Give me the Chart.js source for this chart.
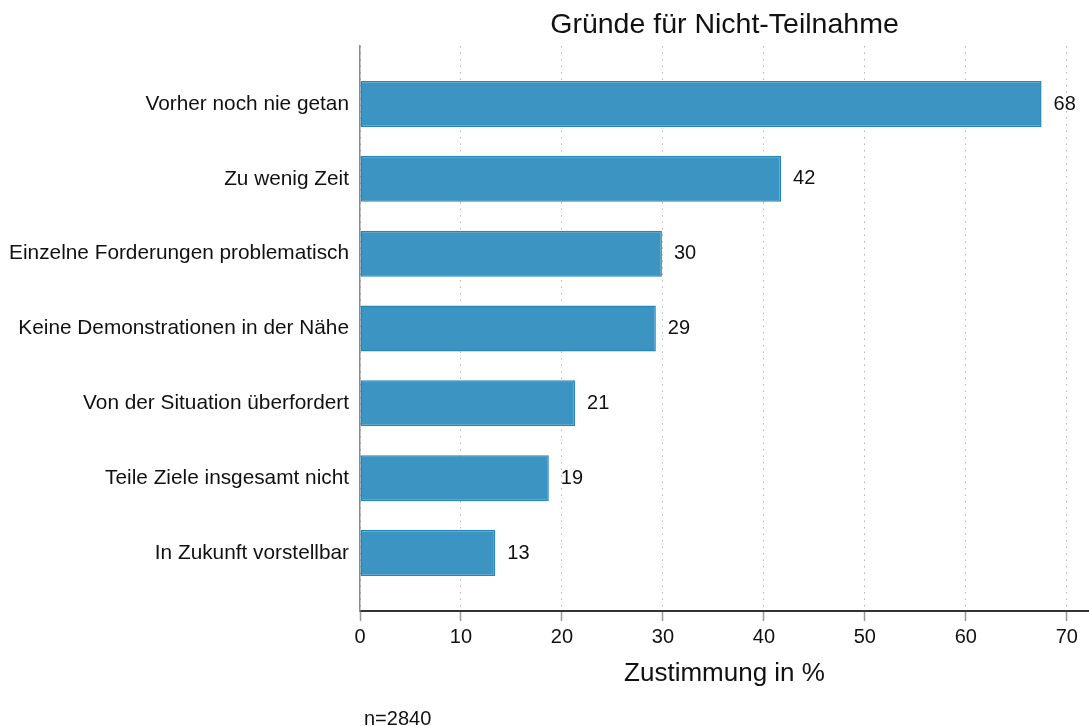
<!DOCTYPE html>
<html>
<head>
<meta charset="utf-8">
<script src="https://cdn.jsdelivr.net/npm/chart.js@4"></script>
<style>
  html, body { margin: 0; padding: 0; background: #fff; }
  #wrap { width: 1089px; height: 726px; position: relative; }
</style>
</head>
<body>
<div id="wrap"><canvas id="chart" width="1089" height="726"></canvas></div>
<script>
const categories = [
    'Vorher noch nie getan',
    'Zu wenig Zeit',
    'Einzelne Forderungen problematisch',
    'Keine Demonstrationen in der Nähe',
    'Von der Situation überfordert',
    'Teile Ziele insgesamt nicht',
    'In Zukunft vorstellbar'
];
const values = [67.5, 41.7, 29.9, 29.3, 21.3, 18.7, 13.4];
const xTicks = [0, 10, 20, 30, 40, 50, 60, 70];
const chartTitle = 'Gründe für Nicht-Teilnahme';
const axisTitle = 'Zustimmung in %';
const note = 'n=2840';

const FONT = '"Liberation Sans", Arial, Helvetica, sans-serif';

// Title, value labels and the n note
const textPlugin = {
    id: 'texts',
    afterDatasetsDraw(chart) {
        const ctx = chart.ctx;
        const meta = chart.getDatasetMeta(0);
        ctx.save();
        ctx.fillStyle = '#111';
        ctx.font = `20px ${FONT}`;
        ctx.textAlign = 'left';
        ctx.textBaseline = 'middle';
        meta.data.forEach((bar, i) => {
            ctx.fillText(String(Math.round(values[i])), bar.x + 12, bar.y);
        });
        ctx.restore();
    },
    afterDraw(chart) {
        const ctx = chart.ctx;
        const area = chart.chartArea;
        ctx.save();
        ctx.fillStyle = '#111';
        ctx.textBaseline = 'alphabetic';
        ctx.font = `28.5px ${FONT}`;
        ctx.textAlign = 'center';
        ctx.fillText(chartTitle, (area.left + area.right) / 2, 33);
        ctx.font = `20px ${FONT}`;
        ctx.textAlign = 'left';
        ctx.fillText(note, 364, 725);
        ctx.restore();
    }
};

new Chart(document.getElementById('chart').getContext('2d'), {
    type: 'bar',
    data: {
        datasets: [{
            data: values.map((v, i) => ({x: v, y: i})),
            backgroundColor: '#3b94c1',
            borderColor: '#2686b9',
            borderWidth: 1.5,
            borderSkipped: false,
            barPercentage: 0.615,
            categoryPercentage: 1
        }]
    },
    options: {
        indexAxis: 'y',
        responsive: false,
        animation: false,
        layout: {padding: {top: 46, right: 0, bottom: 35, left: 0}},
        plugins: {
            legend: {display: false},
            tooltip: {enabled: false}
        },
        scales: {
            x: {
                type: 'linear',
                min: 0,
                max: 72.2,
                afterBuildTicks: (scale) => { scale.ticks = xTicks.map(v => ({value: v})); },
                afterFit: (scale) => { scale.height = 80; },
                grid: {
                    color: '#b5b5b5',
                    lineWidth: 1,
                    drawTicks: true,
                    tickLength: 10,
                    tickColor: '#999',
                    tickWidth: 1.5,
                    tickBorderDash: []
                },
                border: {display: true, color: '#333', width: 2, dash: [1.5, 5]},
                ticks: {
                    color: '#111',
                    padding: 4,
                    font: {family: FONT, size: 20}
                },
                title: {
                    display: true,
                    text: axisTitle,
                    color: '#111',
                    font: {family: FONT, size: 26},
                    padding: {top: 0, bottom: 2}
                }
            },
            y: {
                type: 'linear',
                reverse: true,
                offset: false,
                min: -0.775,
                max: 6.775,
                afterBuildTicks: (scale) => { scale.ticks = categories.map((c, i) => ({value: i})); },
                afterFit: (scale) => { scale.width = 360; },
                grid: {display: false, drawTicks: false},
                border: {display: true, color: '#8c8c8c', width: 1.5},
                ticks: {
                    color: '#111',
                    padding: 11,
                    font: {family: FONT, size: 20.8},
                    callback: (v) => categories[v]
                }
            }
        }
    },
    plugins: [textPlugin]
});
</script>
</body>
</html>
